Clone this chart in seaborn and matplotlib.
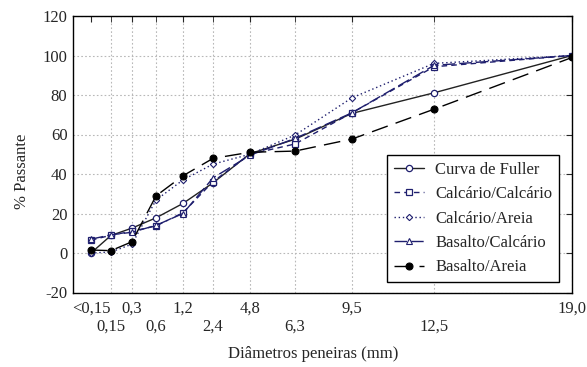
import matplotlib
matplotlib.use("Agg")
import matplotlib.pyplot as plt
import seaborn as sns
import pandas as pd

# ---- data ----
peneiras = ["<0,15", "0,15", "0,3", "0,6", "1,2", "2,4", "4,8", "6,3", "9,5", "12,5", "19,0"]
escala_x = [18, 38, 59, 83, 110, 140, 177, 222, 279, 361, 499]  # non-uniform axis positions
fuller = [0, 8.9, 12.6, 17.8, 25.1, 35.5, 50.3, 57.6, 70.7, 81.1, 100]
calc_calc = [6.5, 9, 11, 13.7, 20.4, 36.1, 50, 55.2, 71, 94.3, 100]
calc_areia = [0, 0.5, 4.5, 26.8, 37, 45, 50, 59.7, 78.6, 96, 100]
bas_calc = [7, 9.2, 10.5, 14, 20, 38, 49.5, 58, 71, 95, 100]
bas_areia = [1.5, 1.2, 5.7, 28.9, 39.1, 47.9, 51, 51.6, 57.7, 72.8, 99]
y_ticks = [-20, 0, 20, 40, 60, 80, 100, 120]

sns.set_style("white")
plt.rcParams["font.family"] = ["Liberation Serif", "DejaVu Serif"]
plt.rcParams["font.size"] = 12
plt.rcParams["axes.unicode_minus"] = False

fig = plt.figure(figsize=(5.87, 3.67), dpi=100)
ax = fig.add_axes([73 / 587, 1 - 292.5 / 367, (572 - 73) / 587, (292.5 - 16) / 367])

navy = "#1f1f6e"
series = [
    ("Curva de Fuller", fuller, dict(color="#222222", linestyle="-", marker="o", ms=4.5,
                                      mfc="white", mec=navy, mew=0.9)),
    ("Calcário/Calcário", calc_calc, dict(color=navy, linestyle=(0, (4, 3)), marker="s", ms=4.5,
                                          mfc="white", mec=navy, mew=0.9)),
    ("Calcário/Areia", calc_areia, dict(color=navy, linestyle=(0, (1, 2)), marker="D", ms=3.2,
                                        mfc="white", mec=navy, mew=0.8)),
    ("Basalto/Calcário", bas_calc, dict(color=navy, linestyle=(0, (9, 3)), marker="^", ms=4,
                                        mfc="white", mec=navy, mew=0.8)),
    ("Basalto/Areia", bas_areia, dict(color="black", linestyle=(0, (12, 6)), marker="o", ms=5,
                                      mfc="black", mec="black", mew=0.8)),
]

for name, vals, st in series:
    df = pd.DataFrame({"x": escala_x, "y": vals})
    sns.lineplot(data=df, x="x", y="y", ax=ax, label=name, estimator=None,
                 linewidth=1.0, **st)

ax.set_xlim(0, escala_x[-1])
ax.set_ylim(-20, 120)
ax.set_yticks(y_ticks)
ax.set_yticklabels([str(v) for v in y_ticks])

major_idx = [0, 2, 4, 6, 8, 10]
minor_idx = [1, 3, 5, 7, 9]
ax.set_xticks([escala_x[i] for i in major_idx])
ax.set_xticklabels([peneiras[i] for i in major_idx])
ax.set_xticks([escala_x[i] for i in minor_idx], minor=True)
ax.set_xticklabels([peneiras[i] for i in minor_idx], minor=True)

ax.tick_params(axis="x", which="major", direction="in", top=True, length=4, pad=6, labelsize=12)
ax.tick_params(axis="x", which="minor", direction="in", top=True, length=4, pad=19, labelsize=12)
ax.tick_params(axis="y", direction="in", right=True, length=4, pad=4, labelsize=12)

ax.grid(True, which="both", color="#b8b8b8", linestyle=(0, (1.5, 2)), linewidth=0.8)
ax.get_xgridlines()[0].set_visible(False)
ax.set_axisbelow(True)

for sp in ax.spines.values():
    sp.set_color("black")
    sp.set_linewidth(1.0)

ax.set_xlabel("Diâmetros peneiras (mm)", fontsize=12)
ax.set_ylabel("% Passante", fontsize=12)
ax.xaxis.set_label_coords((313 - 73) / 499, -(346 - 292.5) / 276.5)
ax.yaxis.set_label_coords(-(73 - 30) / 499, (292.5 - 171) / 276.5)

leg = ax.legend(loc="lower right", bbox_to_anchor=((559 - 73) / 499, (292.5 - 282) / 276.5),
                borderaxespad=0, frameon=True, fancybox=False, shadow=False,
                handlelength=1.8, handletextpad=0.7, labelspacing=0.5, borderpad=0.4,
                fontsize=12)
leg.get_frame().set_edgecolor("black")
leg.get_frame().set_linewidth(1.0)
leg.get_frame().set_alpha(1)

fig.savefig("out.png", dpi=100)
